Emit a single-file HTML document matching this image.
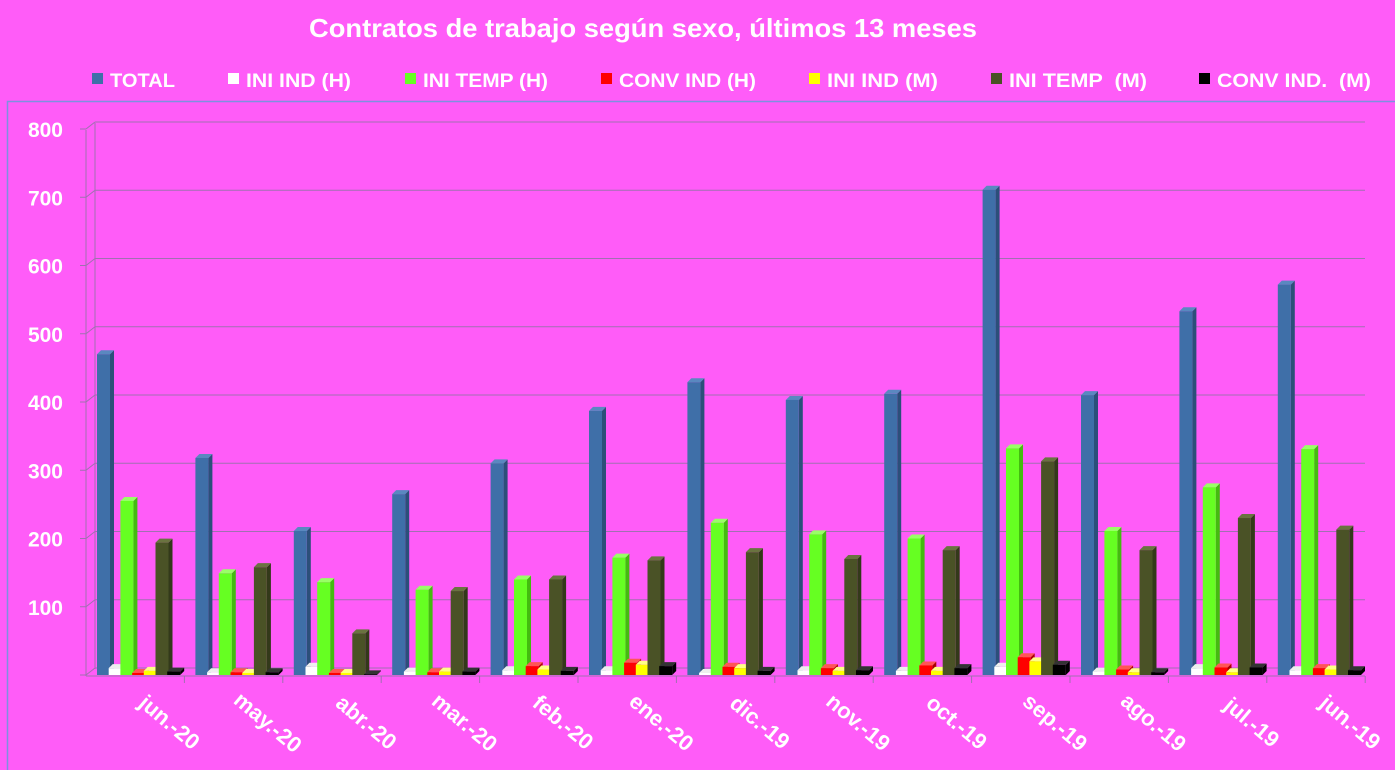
<!DOCTYPE html><html><head><style>
body{margin:0;background:#FF5CF8;}
svg{display:block;font-family:"Liberation Sans",sans-serif;font-weight:bold;}
</style></head><body>
<svg id="s" width="1395" height="770" xmlns="http://www.w3.org/2000/svg">
<rect width="1395" height="770" fill="#FF5CF8"/>
<text x="643" y="37" font-size="26" fill="#fff" text-anchor="middle" textLength="668" lengthAdjust="spacingAndGlyphs">Contratos de trabajo según sexo, últimos 13 meses</text>
<rect x="7.5" y="101.5" width="1390" height="680" fill="none" stroke="#7f8fe0" stroke-width="1.5"/>
<g id="g"></g>
</svg>
<script>
var g=document.getElementById('g'),h='';
var leg=[["TOTAL",92,"#3f6fa8",65],["INI IND (H)",228,"#fff",105],["INI TEMP (H)",405,"#66ff22",125],["CONV IND (H)",601,"#ff0000",137],["INI IND (M)",809,"#ffff00",111],["INI TEMP  (M)",991,"#4a5226",138],["CONV IND.  (M)",1199,"#000",154]];
leg.forEach(function(l){h+='<rect x="'+l[1]+'" y="73" width="11" height="11" fill="'+l[2]+'"/><text x="'+(l[1]+18)+'" y="87" font-size="19" fill="#fff" xml:space="preserve" textLength="'+l[3]+'" lengthAdjust="spacingAndGlyphs">'+l[0]+'</text>';});
function Y(v){return 675-v*0.6825;}
for(var v=0;v<=800;v+=100){var y=Y(v);
 h+='<line x1="86" y1="'+y+'" x2="95" y2="'+(y-7)+'" stroke="#a070b0"/><line x1="95" y1="'+(y-7)+'" x2="1365" y2="'+(y-7)+'" stroke="#a070b0"/><line x1="80" y1="'+y+'" x2="86" y2="'+y+'" stroke="#a070b0"/>';
 if(v>0)h+='<text x="63" y="'+(y+8)+'" font-size="21" fill="#fff" text-anchor="end">'+v+'</text>';}
h+='<line x1="86" y1="130" x2="86" y2="676" stroke="#a070b0"/><line x1="95" y1="123" x2="95" y2="669" stroke="#a070b0"/><line x1="86" y1="676" x2="1365" y2="676" stroke="#a070b0"/>';
var cats=["jun.-20","may.-20","abr.-20","mar.-20","feb.-20","ene.-20","dic.-19","nov.-19","oct.-19","sep.-19","ago.-19","jul.-19","jun.-19"];
var D=[[470,318,211,265,310,387,429,403,412,711,410,533,572],[10,4,12,5,7,7,3,7,6,12,5,10,7],[255,149,136,125,140,172,223,206,200,332,211,275,331],[3,4,3,4,13,18,12,10,14,26,8,11,10],[6,3,3,5,8,15,10,6,6,20,4,4,8],[194,158,61,123,140,168,180,170,183,313,183,230,213],[5,4,1,5,6,13,6,7,10,15,4,11,7]];
var cols=[["#3f6fa8","#2c4f7a","#5a88c0"],["#fff","#ccc","#eee"],["#66ff22","#44bb10","#99ff66"],["#ff0000","#aa0000","#ff5555"],["#ffff00","#bbbb00","#ffff88"],["#4a5226","#33391a","#6a7340"],["#000","#000","#333"]];
var gw=98.4;
for(var c=0;c<13;c++){var x0=86+c*gw;
 h+='<line x1="'+(x0+gw)+'" y1="676" x2="'+(x0+gw)+'" y2="683" stroke="#a070b0"/>';
 for(var s=0;s<7;s++){var v=D[s][c],x=x0+11+s*11.7,w=13,y=Y(v),d=4;
  h+='<polygon points="'+(x+w)+','+y+' '+(x+w+d)+','+(y-d)+' '+(x+w+d)+','+(675-d)+' '+(x+w)+',675" fill="'+cols[s][1]+'"/>';
  h+='<polygon points="'+x+','+y+' '+(x+d)+','+(y-d)+' '+(x+w+d)+','+(y-d)+' '+(x+w)+','+y+'" fill="'+cols[s][2]+'"/>';
  h+='<rect x="'+x+'" y="'+y+'" width="'+w+'" height="'+(675-y)+'" fill="'+cols[s][0]+'"/>';}
 var lx=x0+gw*0.8,ly=728;
 h+='<text transform="translate('+lx+','+ly+') rotate(40)" font-size="22" fill="#fff" text-anchor="middle">'+cats[c]+'</text>';}
g.innerHTML=h;
</script>
</body></html>
